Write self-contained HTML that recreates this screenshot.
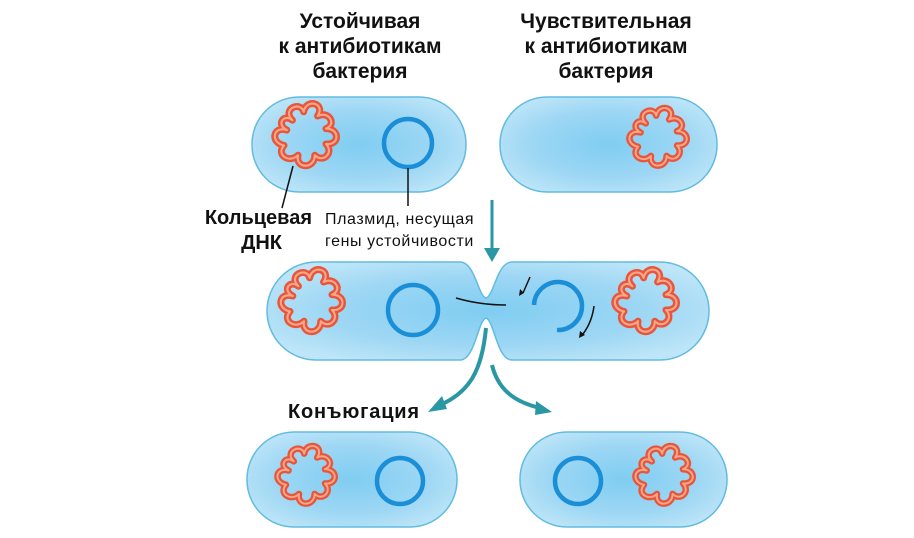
<!DOCTYPE html>
<html><head><meta charset="utf-8"><style>
html,body{margin:0;padding:0;background:#fff;}
svg{display:block;font-family:"Liberation Sans",sans-serif;}
</style></head><body>
<svg width="914" height="538" viewBox="0 0 914 538" xmlns="http://www.w3.org/2000/svg">
<defs>
<radialGradient id="g" cx="50%" cy="50%" r="60%">
<stop offset="0" stop-color="#7fcdf2"/><stop offset="0.6" stop-color="#9ed7f4"/><stop offset="1" stop-color="#bfe6f8"/>
</radialGradient>
<g id="dna">
<path d="M-14,-22 c-8,-8 6,-14 8,-6 c2,-10 16,-6 10,3 c8,-4 14,6 6,9 c10,0 10,12 0,11 c6,6 -2,14 -8,8 c0,10 -14,10 -12,0 c-6,6 -16,0 -10,-7 c-10,-2 -8,-14 2,-11 c-8,-4 -2,-12 4,-7z" fill="none" stroke="#e9553a" stroke-width="5" stroke-linejoin="round"/>
<path d="M-14,-22 c-8,-8 6,-14 8,-6 c2,-10 16,-6 10,3 c8,-4 14,6 6,9 c10,0 10,12 0,11 c6,6 -2,14 -8,8 c0,10 -14,10 -12,0 c-6,6 -16,0 -10,-7 c-10,-2 -8,-14 2,-11 c-8,-4 -2,-12 4,-7z" fill="none" stroke="#f8a88a" stroke-width="1.5" stroke-linejoin="round"/>
</g>
</defs>
<g font-weight="bold" font-size="21" fill="#111" text-anchor="middle">
<text x="360" y="28">Устойчивая</text><text x="360" y="53">к антибиотикам</text><text x="360" y="78">бактерия</text>
<text x="606" y="28">Чувствительная</text><text x="606" y="53">к антибиотикам</text><text x="606" y="78">бактерия</text>
</g>
<g fill="url(#g)" stroke="#62bbe0" stroke-width="1.5">
<rect x="252" y="97" width="214" height="95" rx="47"/>
<rect x="500" y="97" width="217" height="95" rx="47"/>
<path d="M316,262 H460 C475,262 478,296 486,298 C494,296 497,262 512,262 H660 A48,48 0 0 1 660,360 H512 C497,360 494,320 486,318 C478,320 475,360 460,360 H316 A48,48 0 0 1 316,262Z"/>
<rect x="247" y="432" width="210" height="95" rx="47"/>
<rect x="520" y="432" width="207" height="95" rx="47"/>
</g>
<use href="#dna" transform="translate(312,151) scale(1.4)"/>
<use href="#dna" transform="translate(664,152) scale(1.3)"/>
<use href="#dna" transform="translate(318,317) scale(1.4)"/>
<use href="#dna" transform="translate(652,317) scale(1.4)"/>
<use href="#dna" transform="translate(312,490) scale(1.3)"/>
<use href="#dna" transform="translate(670,490) scale(1.3)"/>
<g fill="none" stroke="#1a8ed6" stroke-width="4.5">
<circle cx="408" cy="143" r="24"/>
<circle cx="413" cy="310" r="25"/>
<path d="M534,305 A24,24 0 1 1 557,330"/>
<circle cx="400" cy="481" r="23"/>
<circle cx="578" cy="481" r="23"/>
</g>
<g stroke="#111" stroke-width="1.5" fill="none">
<path d="M293,166 L282,208"/><path d="M408,168 V206"/>
<path d="M456,298 Q480,305 506,305"/>
<path d="M530,277 L523,293"/><path d="M594,306 Q592,322 583,334"/>
</g>
<path d="M519,296 l1,-7 4,4z M579,338 l1,-7 5,4z" fill="#111"/>
<g font-size="20" font-weight="bold" fill="#111" text-anchor="end">
<text x="312" y="224">Кольцевая</text><text x="282" y="249">ДНК</text>
</g>
<g font-size="16" fill="#111" letter-spacing="0.6"><text x="325" y="224">Плазмид, несущая</text><text x="325" y="246">гены устойчивости</text></g>
<path d="M492,200 V250" stroke="#2a98a4" stroke-width="3"/>
<path d="M484,248 L500,248 L492,262z" fill="#2a98a4"/>
<path d="M486,328 C482,370 470,392 440,405" stroke="#2a98a4" stroke-width="4" fill="none"/>
<path d="M428,412 L442,396 L447,409z" fill="#2a98a4"/>
<path d="M492,365 C498,390 515,402 540,408" stroke="#2a98a4" stroke-width="4" fill="none"/>
<path d="M552,412 L536,401 L535,415z" fill="#2a98a4"/>
<text x="288" y="418" font-size="20" font-weight="bold" fill="#111" letter-spacing="0.8">Конъюгация</text>
</svg>
</body></html>
